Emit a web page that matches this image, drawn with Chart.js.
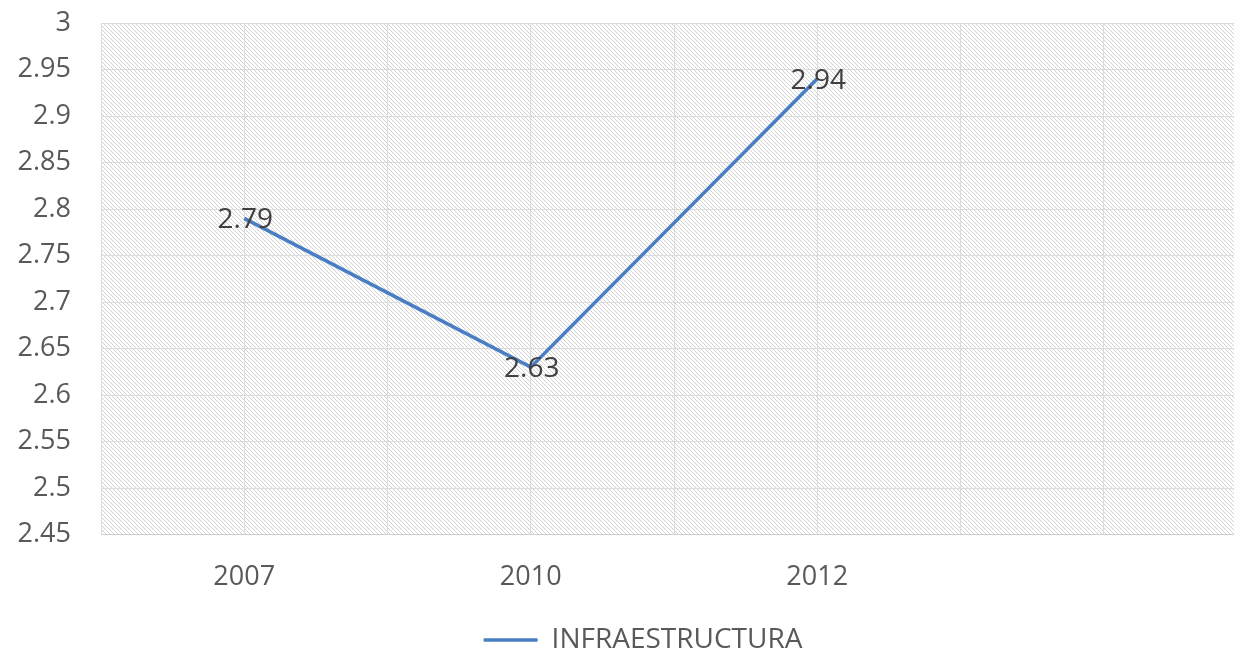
<!DOCTYPE html>
<html>
<head>
<meta charset="utf-8">
<script src="https://cdn.jsdelivr.net/npm/chart.js@4.4.0/dist/chart.umd.min.js"></script>
<style>
  html, body { margin: 0; padding: 0; background: #fff; overflow: hidden; }
  #wrap { width: 1286px; height: 664px; }
</style>
</head>
<body>
<div id="wrap"><canvas id="chart"></canvas></div>
<script>
// values
const years = ['2007', '2010', '2012'];
const infraestructura = [2.79, 2.63, 2.94];
// the category axis has 9 slots, years sit on every other one starting at slot 1
const slots = ['', '', '', '', '', '', '', '', ''];
const yearSlots = [1, 3, 5];
const yTicks = [2.45, 2.5, 2.55, 2.6, 2.65, 2.7, 2.75, 2.8, 2.85, 2.9, 2.95, 3];

let labels = slots.slice();
let values = slots.map(function () { return null; });
yearSlots.forEach(function (s, i) {
    labels[s] = years[i];
    values[s] = infraestructura[i];
});

const FONT = '"Open Sans", sans-serif';

// diagonal hatch for the plot area
let tile = document.createElement('canvas');
tile.width = 4; tile.height = 4;
let tctx = tile.getContext('2d');
tctx.fillStyle = '#ffffff';
tctx.fillRect(0, 0, 4, 4);
tctx.fillStyle = '#d2d2d2';
for (let i = 0; i < 4; i++) tctx.fillRect(i, i, 1, 1);

let hatch = {
    id: 'hatch',
    afterLayout: function (chart) {
        // legend is centred on the whole canvas, not on the padded box
        if (chart.legend) {
            chart.legend.left = 0;
            chart.legend.right = chart.width;
            chart.legend.width = chart.width;
        }
    },
    beforeDraw: function (chart) {
        let a = chart.chartArea, c = chart.ctx;
        c.save();
        c.fillStyle = c.createPattern(tile, 'repeat');
        c.fillRect(a.left, a.top, a.right - a.left, a.bottom - a.top);
        c.restore();
    }
};

let pointLabels = {
    id: 'pointLabels',
    afterDatasetsDraw: function (chart) {
        let c = chart.ctx;
        let meta = chart.getDatasetMeta(0);
        c.save();
        c.font = '28px ' + FONT;
        c.fillStyle = '#404040';
        c.textAlign = 'center';
        c.textBaseline = 'middle';
        meta.data.forEach(function (pt, i) {
            let v = chart.data.datasets[0].data[i];
            if (v === null) return;
            c.fillText(v.toFixed(2), pt.x + 1, pt.y + 2);
        });
        c.restore();
    }
};

let config1 = {
    type: 'line',
    data: {
        labels: labels,
        datasets: [{
            label: 'INFRAESTRUCTURA',
            data: values,
            borderColor: '#4a7ec4',
            backgroundColor: '#4a7ec4',
            borderWidth: 3.5,
            pointRadius: 0,
            spanGaps: true,
            tension: 0
        }]
    },
    options: {
        responsive: true,
        maintainAspectRatio: false,
        animation: false,
        layout: { padding: { left: 0, right: 39, top: 23, bottom: 0 } },
        plugins: {
            tooltip: { enabled: false },
            legend: {
                position: 'bottom',
                labels: {
                    usePointStyle: true,
                    pointStyle: 'line',
                    pointStyleWidth: 54,
                    color: '#595959',
                    font: { family: FONT, size: 28 },
                    padding: 5
                }
            }
        },
        scales: {
            x: {
                type: 'category',
                offset: false,
                grid: { color: '#dcdcdc', lineWidth: 1, drawTicks: false },
                border: { color: '#d0d0d0' },
                ticks: {
                    autoSkip: false,
                    maxRotation: 0,
                    padding: 27,
                    color: '#595959',
                    font: { family: FONT, size: 27 }
                }
            },
            y: {
                min: 2.45,
                max: 3,
                afterFit: function (scale) {
                    scale.width = 101;
                    scale.paddingTop = 0;
                    scale.paddingBottom = 0;
                },
                afterBuildTicks: function (scale) {
                    scale.ticks = yTicks.map(function (v) { return { value: v }; });
                },
                grid: { color: '#dcdcdc', lineWidth: 1, drawTicks: false },
                border: { display: false },
                ticks: {
                    padding: 30,
                    color: '#595959',
                    font: { family: FONT, size: 27 },
                    callback: function (v) { return String(parseFloat(Number(v).toFixed(2))); }
                }
            }
        }
    },
    plugins: [hatch, pointLabels]
};

let ctx1 = document.getElementById('chart').getContext('2d');
window.myLine = new Chart(ctx1, config1);
</script>
</body>
</html>
